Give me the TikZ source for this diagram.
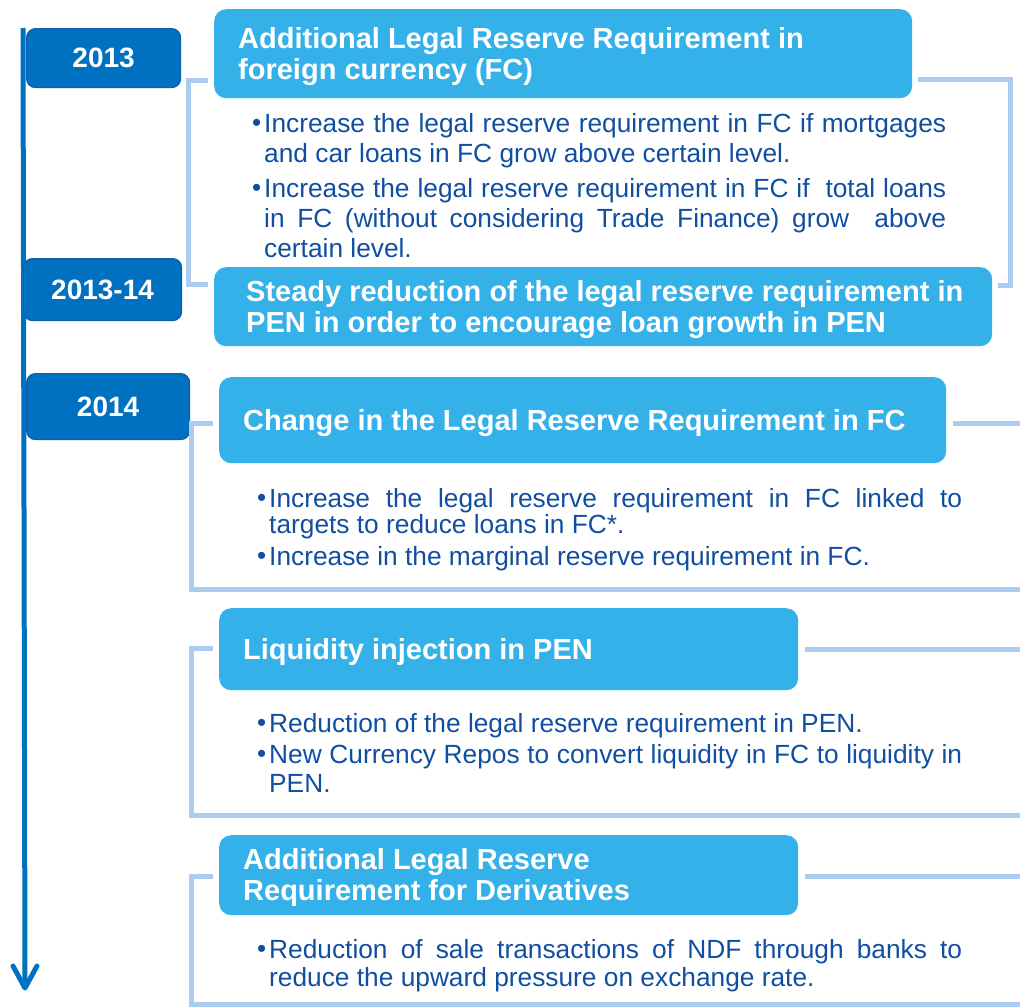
\documentclass[tikz,border=0pt]{standalone}
\usepackage{fontspec}
\setmainfont{Liberation Sans}
\definecolor{yearblue}{RGB}{0,112,192}
\definecolor{yearedge}{RGB}{14,92,172}
\definecolor{titleblue}{RGB}{53,177,233}
\definecolor{framecol}{RGB}{170,204,240}
\definecolor{bodytext}{RGB}{16,78,162}
\newcommand{\bul}{\makebox[12pt][l]{\raisebox{0.5pt}{\fontsize{26}{26}\selectfont\textbullet}}}
\newcommand{\bulpar}[1]{\hangindent=12pt\hangafter=1\noindent\bul#1\par}
\begin{document}
\begin{tikzpicture}[x=1pt,y=-1pt,
  yearbox/.style={draw=yearedge, line width=1.2pt, fill=yearblue, rounded corners=9pt,
    text=white, font=\fontsize{28}{30}\selectfont\bfseries, anchor=north west, inner sep=0pt},
  titlebox/.style={fill=titleblue, rounded corners=12pt, anchor=north west, inner sep=0pt},
  titletext/.style={text=white, font=\fontsize{29}{31}\selectfont\bfseries, align=left,
    anchor=west, inner sep=0pt, yshift=-2.5pt},
  bracket/.style={draw=framecol, line width=5pt},
  bullets/.style={anchor=base west, text=bodytext, align=justify, inner sep=0pt},
  timeline/.style={draw=yearblue, line width=5pt},
]
\useasboundingbox (0,0) rectangle (1020,1007);
\hyphenpenalty=10000 \exhyphenpenalty=10000

% timeline
\coordinate (tl0) at (23,28);
\coordinate (tl1) at (25,988);
\draw[timeline] (tl0) -- (tl1);
\draw[timeline, line cap=round, line join=round] (13,966) -- (tl1) -- (37,966);

% year labels
\node[yearbox, minimum width=154, minimum height=59] (y13) at (26,28) {2013};
\node[yearbox, minimum width=158, minimum height=62] (y1314) at (23,258) {2013-14};
\node[yearbox, minimum width=163, minimum height=66] (y14) at (26,373) {2014};

% brackets behind the title boxes
\draw[bracket] (208,80) -- (188,80) -- (188,284) -- (208,284);
\draw[bracket] (918,79) -- (1010,79) -- (1010,285) -- (998,285);
\draw[bracket] (213,423) -- (191,423) -- (191,589) -- (1022,589);
\draw[bracket] (953,423) -- (1022,423);
\draw[bracket] (213,648) -- (191,648) -- (191,815) -- (1022,815);
\draw[bracket] (805,649) -- (1022,649);
\draw[bracket] (213,876) -- (191,876) -- (191,1004) -- (1022,1004);
\draw[bracket] (805,876) -- (1022,876);

% title boxes
\node[titlebox, minimum width=698, minimum height=89] (t1) at (214,9) {};
\node[titletext] (t1l) at ([xshift=24pt]t1.west) {Additional Legal Reserve Requirement in\\foreign currency (FC)};

\node[titlebox, minimum width=778, minimum height=79] (t2) at (214,267) {};
\node[titletext] (t2l) at ([xshift=32pt]t2.west) {Steady reduction of the legal reserve requirement in\\PEN in order to encourage loan growth in PEN};

\node[titlebox, minimum width=727, minimum height=86] (t3) at (219,377) {};
\node[titletext] (t3l) at ([xshift=24pt]t3.west) {Change in the Legal Reserve Requirement in FC};

\node[titlebox, minimum width=579, minimum height=82] (t4) at (219,608) {};
\node[titletext] (t4l) at ([xshift=24pt]t4.west) {Liquidity injection in PEN};

\node[titlebox, minimum width=579, minimum height=80] (t5) at (219,835) {};
\node[titletext] (t5l) at ([xshift=24pt]t5.west) {Additional Legal Reserve\\Requirement for Derivatives};

% bullet texts
\node[bullets, text width=694] (b1) at (252,132) {\fontsize{26.3}{30}\selectfont
  \bulpar{Increase the legal reserve requirement in FC if mortgages\linebreak and car loans in FC grow above certain level.}\vspace{5pt}
  \bulpar{Increase the legal reserve requirement in FC if\ \ total loans\linebreak in FC (without considering Trade Finance) grow\ \ above\linebreak certain level.}};

\node[bullets, text width=705] (b2) at (257,507) {\fontsize{26.3}{26}\selectfont
  \bulpar{Increase the legal reserve requirement in FC linked to\linebreak targets to reduce loans in FC*.}\vspace{6pt}
  \bulpar{Increase in the marginal reserve requirement in FC.}};

\node[bullets, text width=705] (b3) at (257,732) {\fontsize{26.3}{29}\selectfont
  \bulpar{Reduction of the legal reserve requirement in PEN.}\vspace{2pt}
  \bulpar{New Currency Repos to convert liquidity in FC to liquidity in\linebreak PEN.}};

\node[bullets, text width=705] (b4) at (257,958) {\fontsize{26.3}{28}\selectfont
  \bulpar{Reduction of sale transactions of NDF through banks to\linebreak reduce the upward pressure on exchange rate.}};
\end{tikzpicture}
\end{document}
